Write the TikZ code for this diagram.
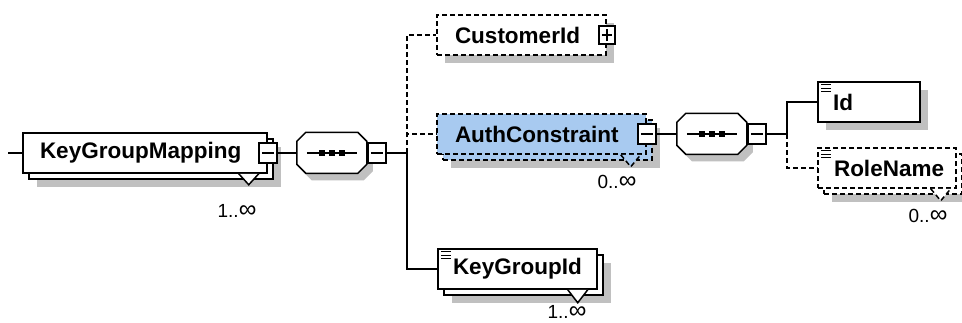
\documentclass[tikz,border=0pt]{standalone}
\usepackage{fontspec}
\setmainfont{Liberation Sans}
\usetikzlibrary{shadows}
\definecolor{authblue}{RGB}{168,202,240}
\definecolor{shadowgray}{RGB}{192,192,192}

\begin{document}
\begin{tikzpicture}[x=1pt,y=-1pt,
    elem/.style={draw,line width=1.5pt,fill=white,minimum height=40pt,inner ysep=0pt,inner xsep=#1,align=left,font=\bfseries\fontsize{22.5}{25}\selectfont},
    opt/.style={dash pattern=on 5pt off 3pt},
    single/.style={drop shadow={shadow xshift=8pt,shadow yshift=-8pt,fill=shadowgray,opacity=1,draw=none}},
    stacked/.style={drop shadow={shadow xshift=14pt,shadow yshift=-14pt,fill=shadowgray,opacity=1,draw=none},copy shadow={shadow xshift=6pt,shadow yshift=-6pt}},
    seq/.style={minimum width=70pt,minimum height=41pt,inner sep=0pt},
    minus/.style={draw,line width=1.5pt,fill=white,minimum width=18pt,minimum height=20pt,inner sep=0pt,path picture={\draw[line width=1.5pt] ([xshift=3pt]path picture bounding box.west) -- ([xshift=-3pt]path picture bounding box.east);}},
    plus/.style={draw,line width=1.5pt,fill=white,minimum width=16pt,minimum height=18pt,inner sep=0pt,path picture={\draw[line width=1.5pt] ([xshift=3pt]path picture bounding box.west) -- ([xshift=-3pt]path picture bounding box.east) ([yshift=3pt]path picture bounding box.south) -- ([yshift=-3pt]path picture bounding box.north);}},
    mult/.style={font=\fontsize{19}{21}\selectfont,inner sep=0pt},
    conn/.style={line width=1.5pt}
  ]
  \fill[white] (0,0) rectangle (962,322);

  \node[elem=17pt,text width=210pt,stacked] (kgm) at (145,153) {KeyGroupMapping};
  \node[minus] (kgmx) at (kgm.east) {};
  \coordinate (start) at (8,153);
  \node[seq] (seq1) at (332,153) {};
  \coordinate (j1) at (407,153);

  \node[elem=18pt,text width=133pt,opt,single] (cust) at (521.5,35) {CustomerId};
  \node[plus] (custx) at (cust.east) {};
  \node[elem=18pt,text width=173pt,opt,stacked,fill=authblue] (auth) at (541.5,134) {AuthConstraint};
  \node[minus] (authx) at (auth.east) {};
  \node[elem=15pt,text width=129pt,stacked] (kgid) at (517.5,269) {KeyGroupId};

  \node[seq] (seq2) at (712,134) {};
  \coordinate (j2) at (787,134);
  \node[elem=15pt,text width=72pt,single] (id) at (869,102) {Id};
  \node[elem=16pt,text width=106pt,opt,stacked] (role) at (887,168) {RoleName};

  % sequence compositors
  \foreach \s in {seq1,seq2} {
    \fill[shadowgray] ([xshift=15pt,yshift=-7pt]\s.north west) -- ++(52,0) -- ++(9,9) -- ++(0,23)
      -- ++(-9,9) -- ++(-52,0) -- ++(-9,-9) -- ++(0,-23) -- cycle;
    \filldraw[fill=white,conn] ([xshift=9pt]\s.north west) -- ++(52,0) -- ++(9,9) -- ++(0,23)
      -- ++(-9,9) -- ++(-52,0) -- ++(-9,-9) -- ++(0,-23) -- cycle;
    \draw[conn] ([xshift=10pt]\s.west) -- ([xshift=-10pt]\s.east);
    \foreach \d in {-10,0,10}
      \fill ([xshift=\d pt]\s.center) +(-3,-3) rectangle +(3,3);
  }
  \node[minus,anchor=west] (seq1x) at (seq1.east) {};
  \node[minus,anchor=west] (seq2x) at (seq2.east) {};

  % simple type marks
  \foreach \n in {id,role,kgid}
    \foreach \k in {0,1,2}
      \draw[line width=1.3pt] ([xshift=4pt,yshift={-(3.5+3.5*\k)*1pt}]\n.north west) -- ++(10,0);

  % multiplicity notches
  \filldraw[fill=white,conn] ([xshift=-29pt]kgm.south east) -- ++(10,11) -- ++(10,-11);
  \filldraw[fill=white,conn] ([xshift=-30pt]kgid.south east) -- ++(10,13) -- ++(10,-13);
  \filldraw[fill=authblue,conn,opt] ([xshift=-26pt]auth.south east) -- ++(10,12) -- ++(10,-12);
  \filldraw[fill=white,conn,opt] ([xshift=-26pt]role.south east) -- ++(10,12) -- ++(10,-12);

  \node[mult] (kgmm) at (237,211) {1..\scalebox{1.3}{∞}};
  \node[mult] (authm) at (617,182) {0..\scalebox{1.3}{∞}};
  \node[mult] (rolem) at (928,216) {0..\scalebox{1.3}{∞}};
  \node[mult] (kgidm) at (567,312) {1..\scalebox{1.3}{∞}};

  \draw[conn] (start) -- (kgm.west);
  \draw[conn] (kgmx) -- (seq1);
  \draw[conn] (seq1x) -- (j1);
  \draw[conn,opt] (j1) |- (cust.west);
  \draw[conn,opt] (j1) |- (auth.west);
  \draw[conn] (j1) |- (kgid.west);
  \draw[conn] (authx) -- (seq2);
  \draw[conn] (seq2x) -- (j2);
  \draw[conn] (j2) |- (id.west);
  \draw[conn,opt] (j2) |- (role.west);
\end{tikzpicture}
\end{document}
